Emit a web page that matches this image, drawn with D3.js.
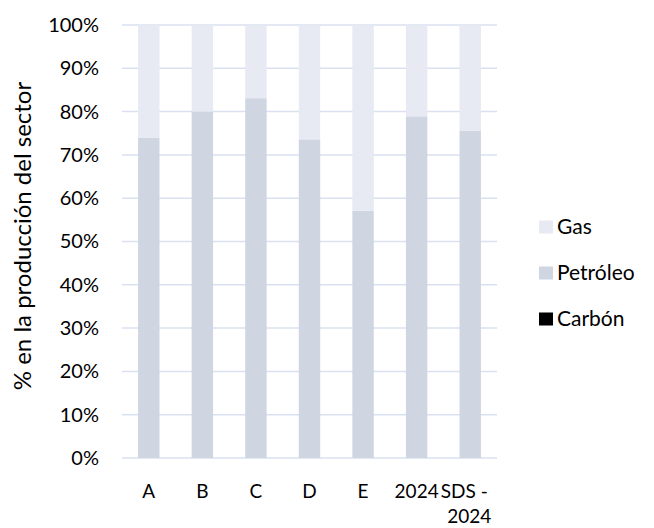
<!DOCTYPE html>
<html>
<head>
<meta charset="utf-8">
<script src="https://cdn.jsdelivr.net/npm/d3@7"></script>
<style>
  html, body { margin: 0; padding: 0; background: #fff; }
  svg text { font-family: Lato, "Open Sans", sans-serif; fill: #000; }
</style>
</head>
<body>
<svg id="chart" width="654" height="528"></svg>
<script>
// Categories along the x axis
const categories = ["A", "B", "C", "D", "E", "2024", "SDS - 2024"];
// Wrapped label lines per category
const categoryLines = [["A"], ["B"], ["C"], ["D"], ["E"], ["2024"], ["SDS -", "2024"]];

// Share of sector output per source (%)
const carbon   = [0, 0, 0, 0, 0, 0, 0];
const petroleo = [74.0, 80.0, 83.1, 73.6, 57.1, 78.9, 75.6];
const gas      = [26.0, 20.0, 16.9, 26.4, 42.9, 21.1, 24.4];

const seriesNames = ["Carbón", "Petróleo", "Gas"];
const seriesColors = { "Carbón": "#000000", "Petróleo": "#cfd6e1", "Gas": "#e7eaf2" };
const yTicks = [0, 10, 20, 30, 40, 50, 60, 70, 80, 90, 100];
const yTitle = "% en la producción del sector";

const rows = categories.map((c, i) => ({
  cat: c, "Carbón": carbon[i], "Petróleo": petroleo[i], "Gas": gas[i]
}));

const svg = d3.select("#chart");
const plot = { left: 122, right: 497, top: 25, bottom: 458 };

const x = d3.scaleBand().domain(categories).range([plot.left, plot.right]).paddingInner(0.6).paddingOuter(0.3);
const y = d3.scaleLinear().domain([0, 100]).range([plot.bottom, plot.top]);

// Horizontal gridlines
svg.append("g").selectAll("line").data(yTicks).join("line")
  .attr("x1", plot.left).attr("x2", plot.right)
  .attr("y1", d => y(d)).attr("y2", d => y(d))
  .attr("stroke", "#d9e1f1").attr("stroke-width", 1.5);

// Stacked bars
const stack = d3.stack().keys(seriesNames)(rows);
svg.append("g").selectAll("g").data(stack).join("g")
  .attr("fill", d => seriesColors[d.key])
  .selectAll("rect").data(d => d).join("rect")
  .attr("x", d => x(d.data.cat))
  .attr("width", x.bandwidth())
  .attr("y", d => y(d[1]))
  .attr("height", d => y(d[0]) - y(d[1]));

// Y axis tick labels
const yAxis = d3.axisLeft(y).tickValues(yTicks).tickFormat(d => d + "%").tickSize(0).tickPadding(0);
const yg = svg.append("g").attr("transform", `translate(99,0)`).call(yAxis);
yg.select(".domain").remove();
yg.selectAll("text").attr("font-size", 20).attr("font-family", "Lato, sans-serif").attr("fill", "#000");

// X axis category labels
const xg = svg.append("g");
categories.forEach((c, i) => {
  const cx = x(c) + x.bandwidth() / 2;
  const lines = categoryLines[i];
  const t = xg.append("text").attr("text-anchor", "middle").attr("font-size", 19);
  lines.forEach((ln, j) => {
    const shift = lines.length > 1 ? (j === 0 ? -6 : -1) : 0;
    t.append("tspan").attr("x", cx + shift).attr("y", 498 + j * 25).text(ln);
  });
});

// Y axis title
svg.append("text")
  .attr("transform", "translate(31,236) rotate(-90)")
  .attr("text-anchor", "middle")
  .attr("font-size", 24)
  .text(yTitle);

// Legend (top to bottom: Gas, Petróleo, Carbón)
const legendItems = seriesNames.slice().reverse();
const lg = svg.append("g").selectAll("g").data(legendItems).join("g")
  .attr("transform", (d, i) => `translate(539,${227 + i * 46})`);
lg.append("rect").attr("x", 0).attr("y", -6.5).attr("width", 14).attr("height", 13)
  .attr("fill", d => seriesColors[d]);
lg.append("text").attr("x", 18).attr("y", 0).attr("dy", "0.35em").attr("font-size", 21).text(d => d);
</script>
</body>
</html>
